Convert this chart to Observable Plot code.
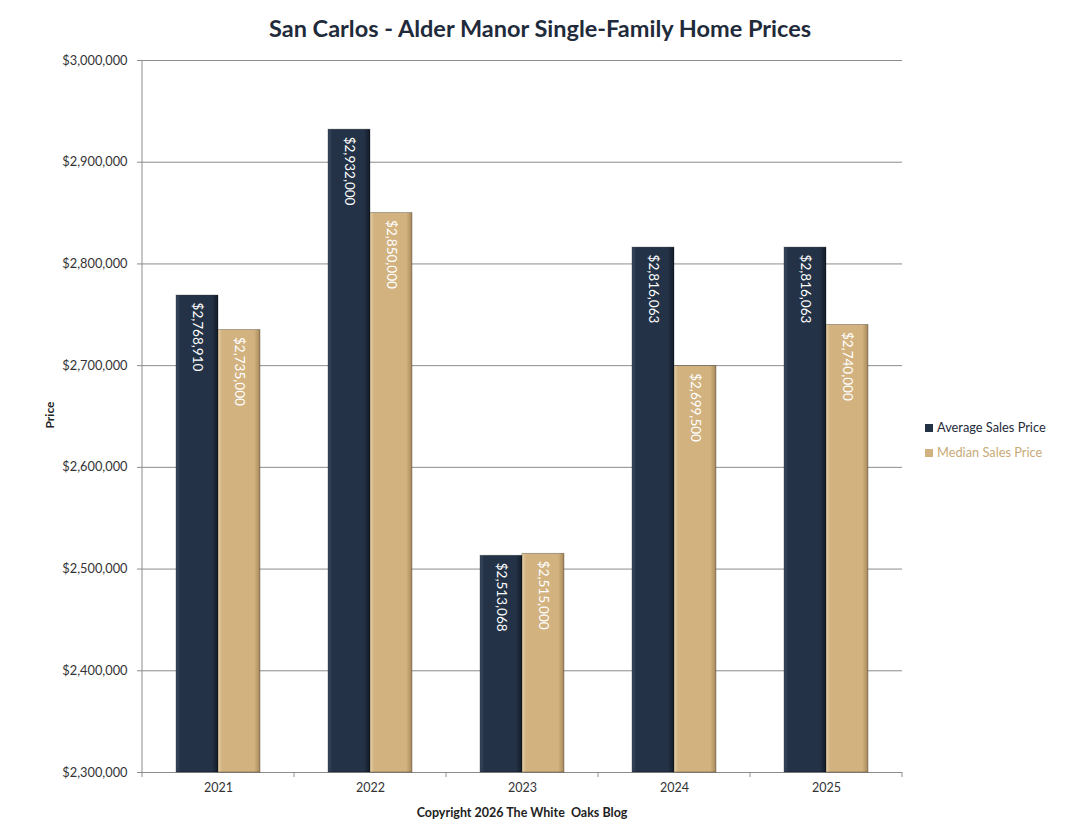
<!DOCTYPE html>
<html>
<head>
<meta charset="utf-8">
<script src="https://cdn.jsdelivr.net/npm/d3@7"></script>
<script src="https://cdn.jsdelivr.net/npm/@observablehq/plot@0.6"></script>
<style>
  body { margin: 0; background: #fff; font-family: Lato, "Open Sans", sans-serif; }
  #wrap { position: relative; width: 1080px; height: 830px; }
  #title { height: 50px; line-height: 56px; text-align: center; font-weight: bold; font-size: 23.5px; color: #1f2b3b; }
  #ytitle { position: absolute; left: 49px; top: 415px; transform: translate(-50%, -50%) rotate(-90deg);
            font-weight: bold; font-size: 12px; color: #222; }
  #caption { position: absolute; left: 522px; top: 812px; transform: translate(-50%, -50%);
             font-weight: bold; font-size: 12.5px; color: #222; white-space: pre; }
  #legend { position: absolute; left: 925px; top: 418px; font-size: 12.8px; }
  #legend .row { height: 25px; line-height: 18px; white-space: nowrap; }
  #legend .sw { display: inline-block; width: 8px; height: 8px; margin-right: 4px; vertical-align: 0px; }
</style>
</head>
<body>
<div id="wrap">
  <div id="title">San Carlos - Alder Manor Single-Family Home Prices</div>
  <div id="chart"></div>
  <div id="ytitle">Price</div>
  <div id="legend"></div>
  <div id="caption">Copyright 2026 The White  Oaks Blog</div>
</div>
<script>
// Sales prices by year
const years = ["2021", "2022", "2023", "2024", "2025"];
const averagePrice = [2768910, 2932000, 2513068, 2816063, 2816063];
const medianPrice = [2735000, 2850000, 2515000, 2699500, 2740000];
const seriesNames = ["Average Sales Price", "Median Sales Price"];
const seriesColors = ["#233246", "#d2b27f"];
const seriesText = ["#1f2b3b", "#c8aa78"];
const priceTicks = [2300000, 2400000, 2500000, 2600000, 2700000, 2800000, 2900000, 3000000];

const priceFloor = priceTicks[0];
const priceCeil = priceTicks[priceTicks.length - 1];
const fmt = d3.format("$,");

const rows = years.flatMap((year, i) => [
  {year, series: seriesNames[0], price: averagePrice[i]},
  {year, series: seriesNames[1], price: medianPrice[i]}
]);

const chart = Plot.plot({
  width: 1080,
  height: 780,
  marginTop: 10,
  marginBottom: 58,
  marginLeft: 142,
  marginRight: 178,
  style: {fontFamily: "Lato, 'Open Sans', sans-serif", fontSize: "12px", color: "#333", background: "transparent"},
  fx: {domain: years, padding: 0, label: null},
  x: {domain: seriesNames, paddingInner: 0, paddingOuter: 0.77, axis: null},
  y: {domain: [priceFloor, priceCeil], label: null},
  color: {domain: seriesNames, range: ["url(#fillAverage)", "url(#fillMedian)"]},
  marks: [
    Plot.gridY(priceTicks, {stroke: "#8c8c8c", strokeOpacity: 1}),
    Plot.axisY(priceTicks, {tickSize: 5, tickPadding: 10, tickFormat: fmt, stroke: "#8c8c8c", fontSize: 12.8, label: null}),
    Plot.axisFx({anchor: "bottom", tickSize: 0, tickPadding: 11, fontSize: 12.5, label: null}),
    Plot.barY(rows, {
      fx: "year", x: "series", y1: priceFloor, y2: "price",
      fill: "series", stroke: "rgba(0,0,0,0.35)", strokeWidth: 0.8
    }),
    Plot.text(rows, {
      fx: "year", x: "series", y: "price",
      text: d => fmt(d.price),
      rotate: 90, textAnchor: "start", lineAnchor: "middle", dy: 7,
      fill: "#fff", fontSize: 13.5
    })
  ]
});

document.getElementById("chart").appendChild(chart);

// Bevelled bar fills
const svg = d3.select(chart);
const defs = svg.insert("defs", ":first-child");
function bevel(id, light, base, dark) {
  const g = defs.append("linearGradient").attr("id", id)
    .attr("x1", 0).attr("x2", 1).attr("y1", 0).attr("y2", 0);
  [[0, light], [0.1, base], [0.86, base], [1, dark]].forEach(([o, c]) =>
    g.append("stop").attr("offset", o).attr("stop-color", c));
}
bevel("fillAverage", "#3b4b61", seriesColors[0], "#131b27");
bevel("fillMedian", "#e4cea4", seriesColors[1], "#a8895a");

// Left axis line and category boundary ticks
const fx = chart.scale("fx");
const y = chart.scale("y");
const yTop = y.apply(priceCeil);
const yBase = y.apply(priceFloor);
const edges = years.map(d => fx.apply(d)).concat([fx.apply(years[years.length - 1]) + fx.bandwidth]);
const frame = svg.append("g").attr("stroke", "#8c8c8c");
frame.append("line").attr("x1", edges[0]).attr("x2", edges[0]).attr("y1", yTop).attr("y2", yBase);
edges.forEach(x => frame.append("line").attr("x1", x).attr("x2", x).attr("y1", yBase).attr("y2", yBase + 5));

// Legend
const legend = d3.select("#legend");
seriesNames.forEach((name, i) => {
  const row = legend.append("div").attr("class", "row").style("color", seriesText[i]);
  row.append("span").attr("class", "sw").style("background", seriesColors[i]);
  row.append("span").text(name);
});
</script>
</body>
</html>
